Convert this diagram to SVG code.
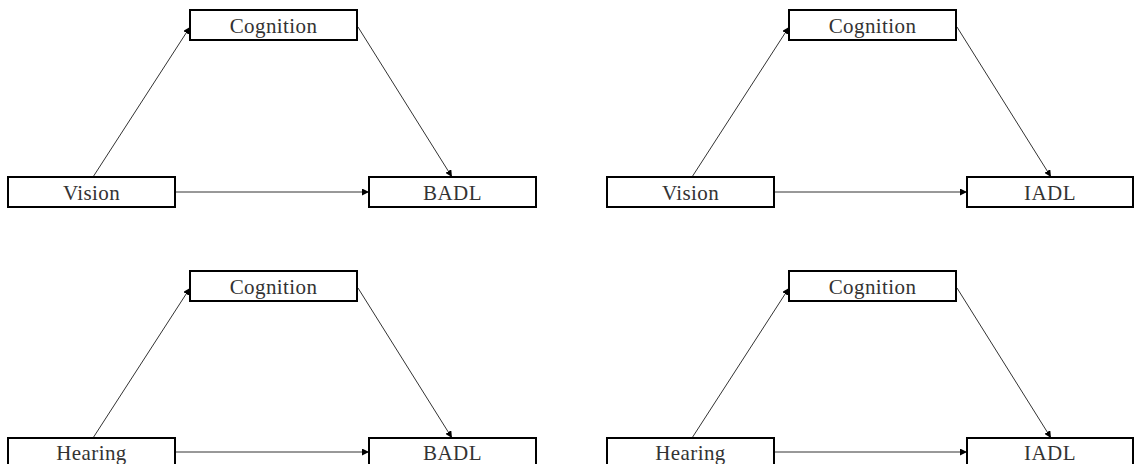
<svg xmlns="http://www.w3.org/2000/svg" width="1134" height="464" viewBox="0 0 1134 464">
<style>
.box{fill:#fff;stroke:#000;stroke-width:2}
.lbl{font-family:"Liberation Serif","DejaVu Serif",serif;font-size:21px;fill:#333;letter-spacing:0.4px;text-anchor:middle;dominant-baseline:central}
.edge{stroke:#333;stroke-width:1;fill:none;marker-end:url(#ah)}
</style>
<defs>
<marker id="ah" viewBox="0 0 10 10" refX="10" refY="5" markerWidth="7" markerHeight="7" markerUnits="userSpaceOnUse" orient="auto">
<path d="M0,0 L10,5 L0,10 z" fill="#000"/>
</marker>
</defs>
<rect width="1134" height="464" fill="#fff"/>
<g id="connectors">
<line class="edge" x1="93" y1="177" x2="190" y2="27"/>
<line class="edge" x1="358" y1="27" x2="452" y2="177"/>
<line class="edge" x1="176" y1="192" x2="369" y2="192"/>
<line class="edge" x1="692" y1="177" x2="789" y2="27"/>
<line class="edge" x1="957" y1="27" x2="1051" y2="177"/>
<line class="edge" x1="775" y1="192" x2="967" y2="192"/>
<line class="edge" x1="93" y1="438" x2="190" y2="288"/>
<line class="edge" x1="358" y1="288" x2="452" y2="438"/>
<line class="edge" x1="176" y1="452" x2="369" y2="452"/>
<line class="edge" x1="692" y1="438" x2="789" y2="288"/>
<line class="edge" x1="957" y1="288" x2="1051" y2="438"/>
<line class="edge" x1="775" y1="452" x2="967" y2="452"/>
</g>
<g id="tl-cognition"><rect class="box" x="190" y="10" width="167" height="30"/><text class="lbl" x="273.5" y="26">Cognition</text></g>
<g id="tl-vision"><rect class="box" x="8" y="177" width="167" height="30"/><text class="lbl" x="91.5" y="193">Vision</text></g>
<g id="tl-badl"><rect class="box" x="369" y="177" width="167" height="30"/><text class="lbl" x="452.5" y="193">BADL</text></g>
<g id="tr-cognition"><rect class="box" x="789" y="10" width="167" height="30"/><text class="lbl" x="872.5" y="26">Cognition</text></g>
<g id="tr-vision"><rect class="box" x="607" y="177" width="167" height="30"/><text class="lbl" x="690.5" y="193">Vision</text></g>
<g id="tr-iadl"><rect class="box" x="967" y="177" width="166" height="30"/><text class="lbl" x="1050" y="193">IADL</text></g>
<g id="bl-cognition"><rect class="box" x="190" y="271" width="167" height="30"/><text class="lbl" x="273.5" y="287">Cognition</text></g>
<g id="bl-hearing"><rect class="box" x="8" y="438" width="167" height="30"/><text class="lbl" x="91.5" y="453">Hearing</text></g>
<g id="bl-badl"><rect class="box" x="369" y="438" width="167" height="30"/><text class="lbl" x="452.5" y="453">BADL</text></g>
<g id="br-cognition"><rect class="box" x="789" y="271" width="167" height="30"/><text class="lbl" x="872.5" y="287">Cognition</text></g>
<g id="br-hearing"><rect class="box" x="607" y="438" width="167" height="30"/><text class="lbl" x="690.5" y="453">Hearing</text></g>
<g id="br-iadl"><rect class="box" x="967" y="438" width="166" height="30"/><text class="lbl" x="1050" y="453">IADL</text></g>
</svg>
